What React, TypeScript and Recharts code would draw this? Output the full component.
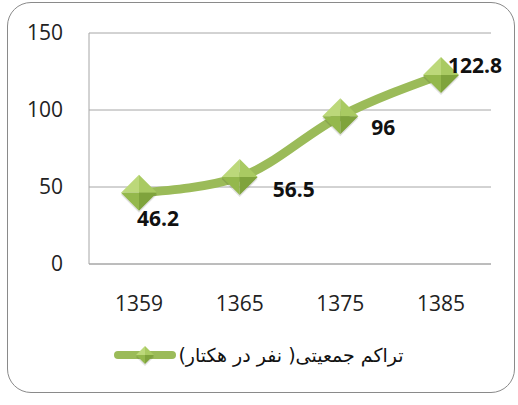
import React from 'react';
import { LineChart, Line, XAxis, YAxis, CartesianGrid, Legend, LabelList } from 'recharts';

const categories = ['1359', '1365', '1375', '1385'];
const densityValues = [46.2, 56.5, 96, 122.8];
const yTicks = [0, 50, 100, 150];
const seriesName = 'تراکم جمعیتی( نفر در هکتار)';

const labelOffsets = [
  { dx: 19, dy: 25 },
  { dx: 54, dy: 12 },
  { dx: 43, dy: 11 },
  { dx: 34, dy: -10 },
];

const data = categories.map((c, i) => ({ year: c, value: densityValues[i] }));

const GREEN = '#9bbb59';

const Diamond = ({ cx, cy, r }: { cx: number; cy: number; r: number }) => (
  <g>
    <polygon points={`${cx},${cy - r + 2} ${cx + r},${cy + 2} ${cx},${cy + r + 2} ${cx - r},${cy + 2}`} fill="rgba(0,0,0,0.12)" />
    <polygon points={`${cx},${cy - r} ${cx},${cy} ${cx - r},${cy}`} fill="#bcd87a" />
    <polygon points={`${cx},${cy - r} ${cx + r},${cy} ${cx},${cy}`} fill="#a9ca62" />
    <polygon points={`${cx - r},${cy} ${cx},${cy} ${cx},${cy + r}`} fill="#94b84c" />
    <polygon points={`${cx},${cy} ${cx + r},${cy} ${cx},${cy + r}`} fill="#7fa33c" />
  </g>
);

const renderDot = (props: any) => {
  const { cx, cy, index } = props;
  if (cx == null || cy == null) return <g key={index} />;
  return <Diamond key={index} cx={cx} cy={cy} r={18} />;
};

const renderLabel = (props: any) => {
  const { x, y, value, index } = props;
  const off = labelOffsets[index] || { dx: 0, dy: 0 };
  return (
    <text
      key={index}
      x={x + off.dx}
      y={y + off.dy}
      textAnchor="middle"
      dominantBaseline="central"
      fontFamily="'Open Sans', sans-serif"
      fontWeight="bold"
      fontSize={21}
      fill="#111"
    >
      {value}
    </text>
  );
};

const renderLegend = () => (
  <div style={{ display: 'flex', justifyContent: 'center', alignItems: 'center', width: 518 }}>
    <svg width={62} height={26} style={{ display: 'block' }}>
      <line x1={4} y1={13} x2={58} y2={13} stroke={GREEN} strokeWidth={8} strokeLinecap="round" />
      <Diamond cx={31} cy={13} r={9} />
    </svg>
    <span
      style={{
        direction: 'rtl',
        unicodeBidi: 'isolate',
        fontFamily: "'DejaVu Sans', sans-serif",
        fontSize: 19,
        color: '#111',
        marginLeft: 2,
      }}
    >
      {seriesName}
    </span>
  </div>
);

export default function App() {
  return (
    <div style={{ position: 'absolute', left: 0, top: 0, width: 518, height: 405, background: '#fff' }}>
      <div
        style={{
          position: 'absolute',
          left: 7,
          top: 2,
          width: 506,
          height: 389,
          border: '1.5px solid #8a8a8a',
          borderRadius: 24,
        }}
      />
      <div style={{ position: 'absolute', left: 0, top: 0 }}>
        <LineChart width={518} height={405} data={data} margin={{ top: 33, right: 27, left: 0, bottom: 55 }}>
          <CartesianGrid vertical={false} stroke="#a6a6a6" strokeWidth={1} />
          <XAxis
            dataKey="year"
            padding={{ left: 50, right: 50 }}
            tickLine={false}
            axisLine={{ stroke: '#a6a6a6' }}
            tickMargin={26}
            height={60}
            tick={{ fontFamily: "'Open Sans', sans-serif", fontSize: 21, fill: '#222' }}
          />
          <YAxis
            domain={[0, 150]}
            ticks={yTicks}
            width={89}
            tickLine={false}
            axisLine={{ stroke: '#a6a6a6' }}
            tickMargin={20}
            tick={{ fontFamily: "'Open Sans', sans-serif", fontSize: 21, fill: '#222' }}
          />
          <Legend verticalAlign="bottom" content={renderLegend} wrapperStyle={{ bottom: 37, left: 0 }} />
          <Line
            type="monotone"
            dataKey="value"
            name={seriesName}
            stroke={GREEN}
            strokeWidth={9}
            dot={renderDot}
            activeDot={false}
            isAnimationActive={false}
          >
            <LabelList dataKey="value" content={renderLabel} />
          </Line>
        </LineChart>
      </div>
    </div>
  );
}
